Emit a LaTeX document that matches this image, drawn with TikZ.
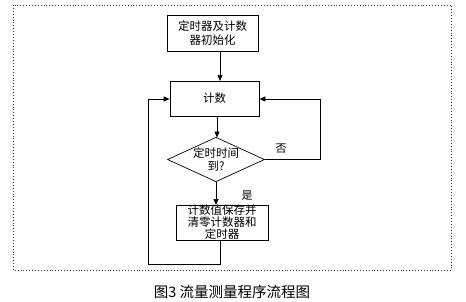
\documentclass[tikz,border=0pt]{standalone}
\usepackage{fontspec}
\setmainfont{Noto Sans CJK SC}
\usetikzlibrary{arrows.meta,shapes.geometric}
\begin{document}
\begin{tikzpicture}[x=1pt,y=-1pt,
  box/.style={draw,line width=0.7pt,inner sep=0pt,font=\fontsize{11.5}{12}\selectfont,align=center},
  dec/.style={draw,line width=0.7pt,diamond,aspect=2.18,inner sep=0pt,minimum width=96pt,minimum height=44pt,font=\fontsize{11.5}{13}\selectfont,align=center},
  conn/.style={line width=0.7pt},
  arr/.style={conn,-{Triangle[length=6pt,width=5pt]}},
  lbl/.style={font=\fontsize{11}{12}\selectfont}]
\useasboundingbox (0,0) rectangle (466,301);
\draw[line width=0.9pt,dotted,black!80] (13,5) rectangle (451,270);
\node[box,minimum width=91pt,minimum height=36pt,font=\fontsize{11.5}{14}\selectfont] (init) at (212.5,33) {定时器及计数\\器初始化};
\node[box,minimum width=89pt,minimum height=35pt] (cnt) at (214.5,98.5) {计数};
\node[dec] (dec) at (216,159.5) {定时时间\\到?};
\node[box,minimum width=92pt,minimum height=35pt] (save) at (222,222.5) {计数值保存并\\清零计数器和\\定时器};
\coordinate (r1) at (320,159.5);
\coordinate (r2) at (320,99);
\coordinate (l0) at (220,264);
\coordinate (l1) at (148,264);
\coordinate (l2) at (148,99);
\draw[arr] (init.south -| 220,0) -- (220,81);
\draw[arr] (217,116) -- (217,137.5);
\draw[conn] (dec.east) -- (r1) -- (r2);
\draw[arr] (r2) -- (cnt.east |- r2);
\draw[arr] (dec.south) -- (216,205);
\draw[conn] (220,240) -- (l0) -- (l1) -- (l2);
\draw[arr] (l2) -- (cnt.west |- l2);
\node[lbl] (no) at (281,149) {否};
\node[lbl] (yes) at (247,196) {是};
\node[font=\fontsize{14.5}{16}\selectfont] (cap) at (232,292) {图3 流量测量程序流程图};
\end{tikzpicture}
\end{document}
